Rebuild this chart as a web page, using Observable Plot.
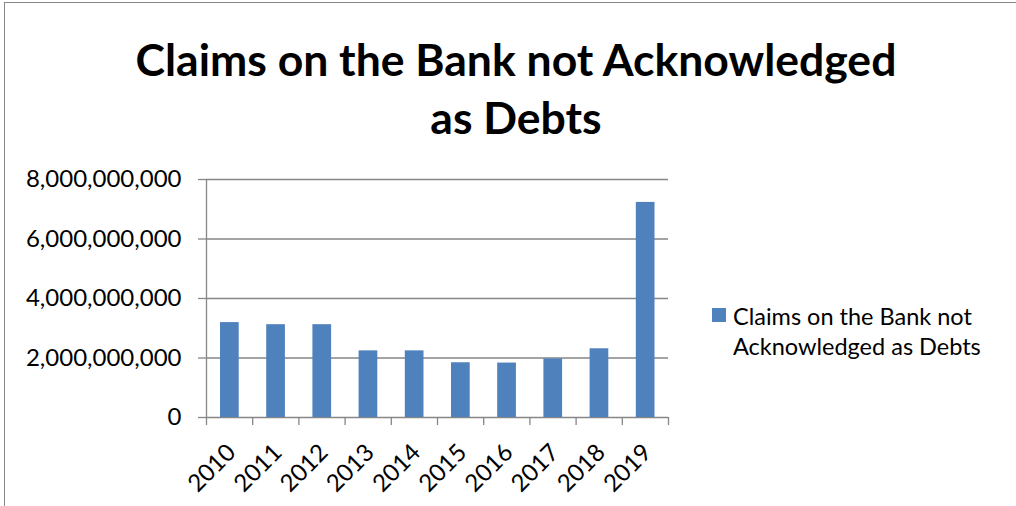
<!DOCTYPE html>
<html>
<head>
<meta charset="utf-8">
<script src="https://cdn.jsdelivr.net/npm/d3@7"></script>
<script src="https://cdn.jsdelivr.net/npm/@observablehq/plot@0.6"></script>
<style>
  html, body { margin: 0; padding: 0; background: #fff; overflow: hidden; width: 1016px; height: 506px; }
  #wrap { position: relative; width: 1016px; height: 506px; font-family: Lato, "Open Sans", sans-serif; }
  #frame { position: absolute; left: 4px; top: 2px; width: 1100px; height: 600px; border: 1px solid #888; }
  #title { position: absolute; left: 116px; width: 800px; top: 30px; text-align: center; font-weight: bold; font-size: 44.5px; line-height: 58px; color: #000; }
  #legend { position: absolute; left: 712px; top: 301px; font-size: 23.5px; line-height: 30px; color: #000; }
  #legend .sw { position: absolute; left: 0; top: 7px; width: 14px; height: 14px; background: #4F81BD; }
  #legend .tx { position: absolute; left: 21px; top: 0; white-space: nowrap; }
  #chart { position: absolute; left: 0; top: 0; }
</style>
</head>
<body>
<div id="wrap">
  <div id="frame"></div>
  <div id="chart"></div>
  <div id="title">Claims on the Bank not Acknowledged<br>as Debts</div>
  <div id="legend"><div class="sw"></div><div class="tx">Claims on the Bank not<br>Acknowledged as Debts</div></div>
</div>
<script>
const years = ["2010","2011","2012","2013","2014","2015","2016","2017","2018","2019"];
const values = [3190000000, 3120000000, 3120000000, 2240000000, 2240000000, 1840000000, 1830000000, 1970000000, 2310000000, 7230000000];
const yTicks = [0, 2000000000, 4000000000, 6000000000, 8000000000];

const data = years.map((y, i) => ({year: y, i, value: values[i]}));
const gray = "#868686";

const chart = Plot.plot({
  width: 1016,
  height: 506,
  marginLeft: 206,
  marginRight: 348,
  marginTop: 179,
  marginBottom: 89,
  style: {fontFamily: "Lato, 'Open Sans', sans-serif", background: "transparent"},
  x: {type: "linear", domain: [0, years.length]},
  y: {domain: [0, 8000000000]},
  marks: [
    Plot.ruleY(yTicks, {stroke: gray, strokeWidth: 1.3}),
    Plot.rectY(data, {x1: "i", x2: d => d.i + 1, y: "value", fill: "#4F81BD", insetLeft: 14, insetRight: 13.5}),
    Plot.ruleX([0], {stroke: gray, strokeWidth: 1.3}),
    Plot.axisY({ticks: yTicks, tickFormat: d3.format(","), tickSize: 8, tickPadding: 17, stroke: gray, strokeWidth: 1.3, fontSize: 24, fill: "#000", label: null}),
    Plot.axisX({ticks: d3.range(years.length + 1), tickFormat: () => "", tickSize: 8, stroke: gray, strokeWidth: 1.3, label: null}),
    Plot.axisX({ticks: d3.range(years.length).map(i => i + 0.5), tickFormat: t => years[Math.floor(t)], tickSize: 0, tickPadding: 26, tickRotate: -45, dy: 5, dx: 2, fontSize: 24, fill: "#000", label: null})
  ]
});
document.getElementById("chart").appendChild(chart);
</script>
</body>
</html>
